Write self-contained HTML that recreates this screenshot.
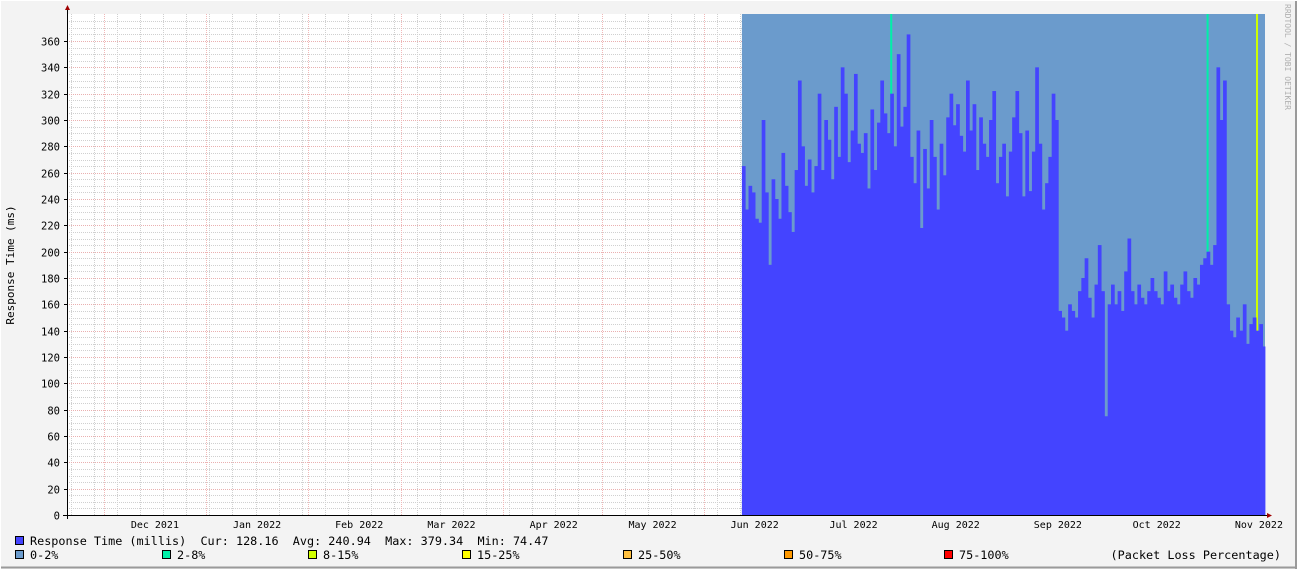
<!DOCTYPE html>
<html><head><meta charset="utf-8"><style>
html,body{margin:0;padding:0;background:#f3f3f3;}
svg{display:block;font-family:"DejaVu Sans Mono","Liberation Mono",monospace;}
text{white-space:pre;}
</style></head><body>
<svg id="chart" width="1297" height="569" xmlns="http://www.w3.org/2000/svg">
<rect x="0" y="0" width="1297" height="569" fill="#f3f3f3"/>
<line x1="0" y1="567.5" x2="1297" y2="567.5" stroke="#9a9a9a" stroke-width="2"/>
<line x1="1296" y1="0" x2="1296" y2="569" stroke="#9a9a9a" stroke-width="2"/>
<line x1="0" y1="0.5" x2="1297" y2="0.5" stroke="#fff"/>
<line x1="0.5" y1="0" x2="0.5" y2="569" stroke="#fff"/>
<rect x="67" y="14" width="1198" height="501" fill="#ffffff"/>
<g id="grid"></g>
<g id="series"></g>
<g id="axes"></g>
<text x="14" y="265" font-size="11" fill="#000" text-anchor="middle" transform="rotate(-90 14 265)">Response Time (ms)</text>
<text x="1285" y="4" font-size="8" fill="#b0b0b0" transform="rotate(90 1285 4)">RRDTOOL / TOBI OETIKER</text>
<g id="legend" font-size="11.8" xml:space="preserve">
 <g><rect x="15.5" y="536.5" width="8" height="8" fill="#4444ff" stroke="#000"/><text x="30" y="545" xml:space="preserve">Response Time (millis)  Cur: 128.16  Avg: 240.94  Max: 379.34  Min: 74.47</text></g>
 <g><rect x="15.5" y="550.5" width="8" height="8" fill="#6b9bcc" stroke="#000"/><text x="30" y="559">0-2%</text></g>
 <g><rect x="162.5" y="550.5" width="8" height="8" fill="#00f0a8" stroke="#000"/><text x="177" y="559">2-8%</text></g>
 <g><rect x="308.5" y="550.5" width="8" height="8" fill="#d0ff00" stroke="#000"/><text x="323" y="559">8-15%</text></g>
 <g><rect x="462.5" y="550.5" width="8" height="8" fill="#ffff00" stroke="#000"/><text x="477" y="559">15-25%</text></g>
 <g><rect x="623.5" y="550.5" width="8" height="8" fill="#ffc040" stroke="#000"/><text x="638" y="559">25-50%</text></g>
 <g><rect x="784.5" y="550.5" width="8" height="8" fill="#ff9900" stroke="#000"/><text x="799" y="559">50-75%</text></g>
 <g><rect x="944.5" y="550.5" width="8" height="8" fill="#ff0000" stroke="#000"/><text x="959" y="559">75-100%</text></g>
 <text x="1281" y="559" text-anchor="end">(Packet Loss Percentage)</text>
</g>
</svg>
<script>
const yTicks = [0,20,40,60,80,100,120,140,160,180,200,220,240,260,280,300,320,340,360];
const monthLabels = ["Dec 2021","Jan 2022","Feb 2022","Mar 2022","Apr 2022","May 2022","Jun 2022","Jul 2022","Aug 2022","Sep 2022","Oct 2022","Nov 2022"];
// days since Dec 1 2021 for each month start
const monthStartDays = [0,31,62,90,121,151,182,212,243,274,304,335];
const dataStartDay = 193.6; // first sample (~Jun 12 2022)
const responseValues = [
265,232,250,245,225,222,300,245,190,255,
240,225,275,250,230,215,262,330,280,250,
270,245,265,320,262,300,285,255,310,272,
340,320,268,292,335,282,275,290,248,308,
262,298,330,305,290,320,280,350,295,310,
365,272,252,292,218,278,248,300,272,232,
282,258,302,320,296,312,288,276,330,292,
312,262,302,282,272,300,322,252,272,282,
242,276,302,322,290,242,292,246,276,340,
282,232,252,272,320,300,
155,150,140,160,155,150,170,180,195,165,150,175,205,170,
75,
160,175,160,170,155,185,
210,
170,160,175,165,160,170,180,170,165,160,185,170,175,165,160,175,185,170,165,180,175,190,195,
200,
190,205,340,300,330,160,140,135,150,140,160,130,145,150,140,145,128];
const lossDays = [45,141,156];
const lossBuckets = [1,1,2];
const lossColors = ["#6b9bcc","#00f0a8","#d0ff00","#ffff00","#ffc040","#ff9900","#ff0000"];

const NS="http://www.w3.org/2000/svg";
const X0=67,X1=1265,Y0=515,YTOP=14;
const dayStart=-11.2, pxPerDay=3.2955;
const yMax=(Y0-YTOP)/ (26.333/20);
function xScale(d){return X0+(d-dayStart)*pxPerDay;}
function yScale(v){return Y0-v*(Y0-YTOP)/yMax;}
function mk(tag,attrs,parent){const e=document.createElementNS(NS,tag);for(const k in attrs)e.setAttribute(k,attrs[k]);parent.appendChild(e);return e;}
const grid=document.getElementById('grid'),series=document.getElementById('series'),axes=document.getElementById('axes');

for(let v=5;v<yMax;v+=5){ if(v%20===0)continue;
 const l=mk('line',{x1:X0,x2:X1,y1:Math.round(yScale(v))+0.5,y2:Math.round(yScale(v))+0.5,stroke:'#d0d0d0','stroke-dasharray':'1,1'},grid);
 
 }
for(let d=-10;xScale(d)<X1;d+=7){const x=Math.round(xScale(d))+0.5;
 const l=mk('line',{x1:x,x2:x,y1:YTOP,y2:Y0,stroke:'#d0d0d0','stroke-dasharray':'1,1'},grid);
 
 }
const n=responseValues.length;
{
 const xa=xScale(dataStartDay);
 const bg=mk('rect',{x:xa,y:YTOP,width:X1-xa,height:Y0-YTOP,fill:lossColors[0]},series);
 
 
}
for(let j=0;j<lossDays.length;j++){
 const xa=xScale(dataStartDay+lossDays[j]);
 const r=mk('rect',{x:xa,y:YTOP,width:2,height:Y0-YTOP,fill:lossColors[lossBuckets[j]]},series);
 
 
}
for(let i=0;i<n;i++){
 const xa=xScale(dataStartDay+i);
 let xb=Math.min(X1, xScale(dataStartDay+i+1));
 const y=yScale(responseValues[i]);
 const b=mk('rect',{x:xa,y:y,width:Math.max(0,xb-xa+0.4),height:Y0-y,fill:'#4444ff'},series);
 
 
}
yTicks.forEach(v=>{const y=Math.round(yScale(v))+0.5;
 if(v>0){const l=mk('line',{x1:X0,x2:X1,y1:y,y2:y,stroke:'#eab0b0','stroke-dasharray':'1,1'},grid);
 
 }
 mk('line',{x1:X0-3,x2:X0,y1:y,y2:y,stroke:'#000'},axes);
 const t=mk('text',{x:60,y:y+4,'font-size':'10.5','text-anchor':'end',fill:'#000'},axes);
 t.textContent=v;
 
 });
monthStartDays.forEach((d,i)=>{const x=Math.round(xScale(d))+0.5;
 const l=mk('line',{x1:x,x2:x,y1:YTOP,y2:Y0,stroke:'#f0b8b8','stroke-dasharray':'1,1'},grid);
 
 
 const t=mk('text',{x:xScale(d)+51,y:528,'font-size':'10','text-anchor':'middle',fill:'#000'},axes);
 t.textContent=monthLabels[i];
 
 });
mk('line',{x1:X0-4,x2:X1+2,y1:Y0+0.5,y2:Y0+0.5,stroke:'#000'},axes);
mk('line',{x1:X0+0.5,x2:X0+0.5,y1:YTOP-4,y2:Y0+4,stroke:'#000'},axes);
mk('path',{d:`M${X1+2},${Y0-2} L${X1+7},${Y0+0.5} L${X1+2},${Y0+3} Z`,fill:'#a00000'},axes);
mk('path',{d:`M${X0-2},${YTOP-4} L${X0+0.5},${YTOP-9} L${X0+3},${YTOP-4} Z`,fill:'#a00000'},axes);
</script>
</body></html>
